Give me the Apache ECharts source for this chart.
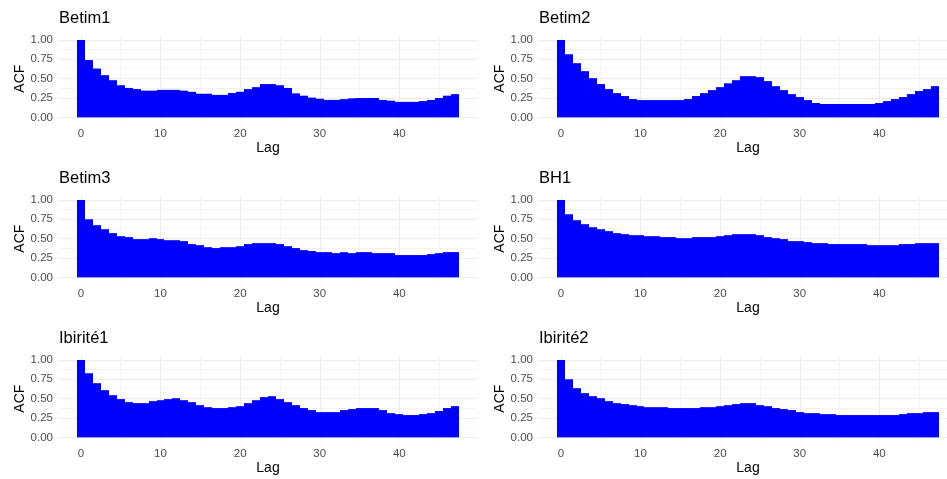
<!DOCTYPE html>
<html>
<head>
<meta charset="utf-8">
<script src="https://cdn.jsdelivr.net/npm/echarts@6/dist/echarts.min.js"></script>
<style>
  html, body { margin: 0; padding: 0; background: #fff; }
  #main { width: 947px; height: 479px; }
</style>
</head>
<body>
<div id="main"></div>
<script>
// lags 0..47
const lags = [0, 1, 2, 3, 4, 5, 6, 7, 8, 9, 10, 11, 12, 13, 14, 15, 16, 17, 18, 19, 20, 21, 22, 23,
  24, 25, 26, 27, 28, 29, 30, 31, 32, 33, 34, 35, 36, 37, 38, 39, 40, 41, 42, 43, 44, 45, 46, 47];

const stations = ['Betim1', 'Betim2', 'Betim3', 'BH1', 'Ibirité1', 'Ibirité2'];

// ACF
const acfBetim1 = [1.0, 0.74, 0.63, 0.545, 0.48, 0.415, 0.38, 0.365, 0.345, 0.345, 0.355, 0.355,
  0.355, 0.345, 0.33, 0.305, 0.305, 0.29, 0.29, 0.315, 0.33, 0.365, 0.39, 0.43,
  0.43, 0.415, 0.38, 0.31, 0.28, 0.255, 0.24, 0.225, 0.225, 0.235, 0.245, 0.25,
  0.25, 0.25, 0.225, 0.215, 0.2, 0.2, 0.2, 0.21, 0.225, 0.25, 0.28, 0.3];
const acfBetim2 = [1.0, 0.815, 0.7, 0.597, 0.506, 0.43, 0.365, 0.313, 0.275, 0.236, 0.223, 0.223,
  0.223, 0.223, 0.223, 0.223, 0.236, 0.275, 0.313, 0.352, 0.39, 0.44, 0.48, 0.532,
  0.532, 0.52, 0.468, 0.403, 0.352, 0.3, 0.262, 0.223, 0.185, 0.172, 0.172, 0.172,
  0.172, 0.172, 0.172, 0.172, 0.185, 0.21, 0.236, 0.262, 0.3, 0.34, 0.365, 0.403];
const acfBetim3 = [1.0, 0.75, 0.674, 0.622, 0.571, 0.532, 0.52, 0.494, 0.494, 0.506, 0.494, 0.48,
  0.48, 0.468, 0.43, 0.416, 0.39, 0.378, 0.39, 0.39, 0.403, 0.43, 0.442, 0.442,
  0.442, 0.43, 0.403, 0.378, 0.352, 0.34, 0.326, 0.326, 0.313, 0.326, 0.313, 0.326,
  0.326, 0.313, 0.313, 0.313, 0.288, 0.288, 0.288, 0.288, 0.3, 0.313, 0.326, 0.326];
const acfBH1 = [1.0, 0.815, 0.738, 0.687, 0.648, 0.622, 0.597, 0.571, 0.558, 0.545, 0.545, 0.532,
  0.532, 0.52, 0.52, 0.506, 0.506, 0.52, 0.52, 0.52, 0.532, 0.545, 0.558, 0.558,
  0.558, 0.545, 0.52, 0.506, 0.494, 0.468, 0.468, 0.455, 0.442, 0.442, 0.43, 0.43,
  0.43, 0.43, 0.43, 0.416, 0.416, 0.416, 0.416, 0.43, 0.43, 0.442, 0.442, 0.442];
const acfIbirite1 = [1.0, 0.828, 0.7, 0.61, 0.545, 0.494, 0.455, 0.442, 0.442, 0.468, 0.48, 0.494,
  0.506, 0.48, 0.455, 0.416, 0.39, 0.378, 0.378, 0.39, 0.403, 0.442, 0.48, 0.52,
  0.532, 0.494, 0.455, 0.416, 0.378, 0.352, 0.326, 0.326, 0.326, 0.352, 0.365, 0.378,
  0.378, 0.378, 0.352, 0.313, 0.3, 0.288, 0.288, 0.3, 0.313, 0.34, 0.378, 0.403];
const acfIbirite2 = [1.0, 0.75, 0.635, 0.571, 0.532, 0.506, 0.468, 0.442, 0.43, 0.416, 0.403, 0.39,
  0.39, 0.39, 0.378, 0.378, 0.378, 0.378, 0.39, 0.39, 0.403, 0.416, 0.43, 0.442,
  0.442, 0.416, 0.403, 0.378, 0.365, 0.352, 0.326, 0.313, 0.313, 0.3, 0.3, 0.288,
  0.288, 0.288, 0.288, 0.288, 0.288, 0.288, 0.288, 0.3, 0.313, 0.313, 0.326, 0.326];

const acfValues = [acfBetim1, acfBetim2, acfBetim3, acfBH1, acfIbirite1, acfIbirite2];

const xTicks = [0, 10, 20, 30, 40];
const xMinor = [5, 15, 25, 35, 45];
const yTicks = [0, 0.25, 0.5, 0.75, 1];
const yMinor = [0.125, 0.375, 0.625, 0.875];

const FONT = '"Liberation Sans", Arial, sans-serif';
const colLeft = [59, 539];
const colRight = [470, -10];   // o painel da direita passa da borda da imagem
const rowTop = [36.1, 196.1, 356.1];
const panelH = 85.1;

const chart = echarts.init(document.getElementById('main'), null, { renderer: 'canvas' });

const grid = [], xAxis = [], yAxis = [], series = [], title = [];

stations.forEach((name, i) => {
  const left = colLeft[i % 2];
  const top = rowTop[Math.floor(i / 2)];
  grid.push({
    left: left,
    right: colRight[i % 2],
    top: top,
    height: panelH,
    containLabel: false,
    outerBoundsMode: 'none'
  });
  title.push({
    text: name,
    left: left,
    top: top - 26,
    padding: 0,
    textStyle: { fontFamily: FONT, fontSize: 16.5, fontWeight: 'normal', color: '#000' }
  });
  xAxis.push({
    type: 'value',
    gridIndex: i,
    min: -2.75,
    max: 49.75,
    name: 'Lag',
    nameLocation: 'middle',
    nameGap: 16,
    nameTextStyle: { fontFamily: FONT, fontSize: 14, color: '#000' },
    axisLine: { show: false },
    axisTick: { show: false, customValues: xTicks },
    axisLabel: {
      customValues: xTicks,
      margin: 7,
      fontFamily: FONT,
      fontSize: 11.5,
      color: '#4d4d4d'
    },
    splitLine: { show: true, lineStyle: { color: '#ebebeb', width: 1 } }
  });
  yAxis.push({
    type: 'value',
    gridIndex: i,
    min: -0.05,
    max: 1.05,
    name: 'ACF',
    nameLocation: 'middle',
    nameRotate: 90,
    nameGap: 31,
    nameTextStyle: { fontFamily: FONT, fontSize: 14, color: '#000' },
    axisLine: { show: false },
    axisTick: { show: false, customValues: yTicks },
    axisLabel: {
      customValues: yTicks,
      margin: 6,
      fontFamily: FONT,
      fontSize: 11.5,
      color: '#4d4d4d',
      formatter: v => v.toFixed(2)
    },
    splitLine: { show: true, lineStyle: { color: '#ebebeb', width: 1 } }
  });
  series.push({
    type: 'custom',
    xAxisIndex: i,
    yAxisIndex: i,
    z: 2,
    data: lags.map((lag, k) => [lag, acfValues[i][k]]),
    renderItem: (params, api) => {
      const lag = api.value(0);
      const v = api.value(1);
      const p0 = api.coord([lag - 0.5, v]);
      const p1 = api.coord([lag + 0.5, 0]);
      const x0 = Math.round(p0[0]);
      const x1 = Math.round(p1[0]);
      return {
        type: 'rect',
        shape: { x: x0, y: p0[1], width: x1 - x0, height: p1[1] - p0[1] },
        style: { fill: '#0000ff' }
      };
    },
    markLine: {
      silent: true,
      z: 1,
      symbol: ['none', 'none'],
      label: { show: false },
      animation: false,
      lineStyle: { color: '#f3f3f3', width: 1, type: 'solid' },
      data: xMinor.map(v => ({ xAxis: v })).concat(yMinor.map(v => ({ yAxis: v })))
    }
  });
});

chart.setOption({
  animation: false,
  backgroundColor: '#fff',
  title: title,
  grid: grid,
  xAxis: xAxis,
  yAxis: yAxis,
  series: series
});
</script>
</body>
</html>
